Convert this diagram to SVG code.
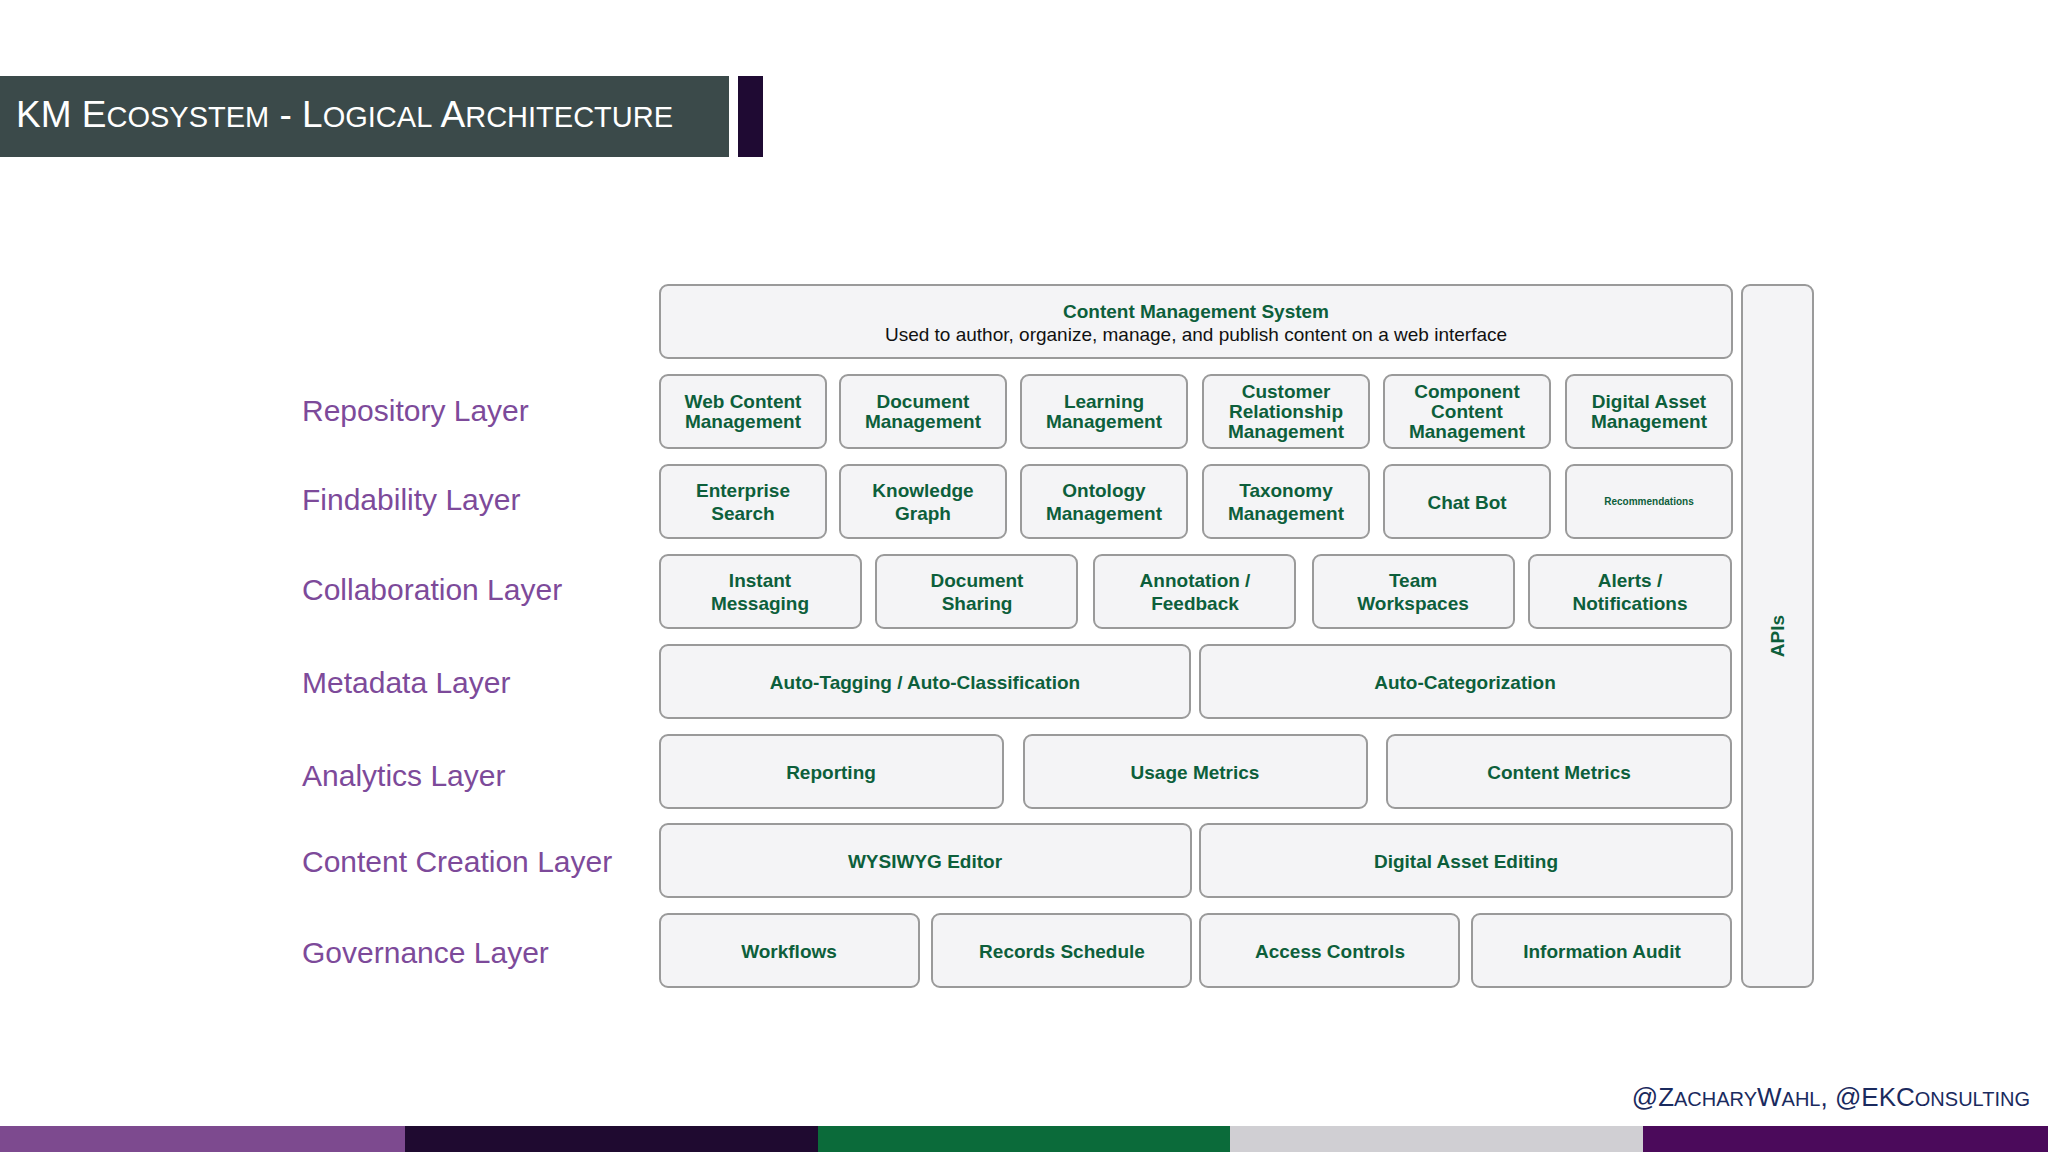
<svg xmlns="http://www.w3.org/2000/svg" width="2048" height="1152" viewBox="0 0 2048 1152">
<style>
.b{fill:#f4f4f6;stroke:#9a9a9a;stroke-width:2}
.t{font-family:"Liberation Sans",Arial,sans-serif;font-weight:bold;font-size:19px;fill:#0d5f3b;text-anchor:middle}
.l{font-family:"Liberation Sans",Arial,sans-serif;font-size:30px;fill:#7d4a9a}
</style>
<rect width="2048" height="1152" fill="#fff"/>
<rect x="0" y="76" width="729" height="81" fill="#3b4a4a"/>
<rect x="738" y="76" width="25" height="81" fill="#1f0a33"/>
<text x="16" y="127" font-family="Liberation Sans,Arial,sans-serif" font-size="37" fill="#fff">KM E<tspan font-size="29">COSYSTEM</tspan> - L<tspan font-size="29">OGICAL</tspan> A<tspan font-size="29">RCHITECTURE</tspan></text>
<g id="labels" class="l">
<text x="302" y="421">Repository Layer</text>
<text x="302" y="510">Findability Layer</text>
<text x="302" y="600">Collaboration Layer</text>
<text x="302" y="693">Metadata Layer</text>
<text x="302" y="786">Analytics Layer</text>
<text x="302" y="872">Content Creation Layer</text>
<text x="302" y="963">Governance Layer</text>
</g>
<g id="cms"><rect class="b" x="660" y="285" width="1072" height="73" rx="8"/>
<text class="t" x="1196" y="318">Content Management System</text>
<text x="1196" y="341" font-family="Liberation Sans,Arial,sans-serif" font-size="19" fill="#111" text-anchor="middle">Used to author, organize, manage, and publish content on a web interface</text></g>
<g id="apis"><rect class="b" x="1742" y="285" width="71" height="702" rx="8"/>
<text class="t" transform="translate(1784 636) rotate(-90)">APIs</text></g>
<g id="repo">
<rect class="b" x="660" y="375" width="166" height="73" rx="8"/><text class="t" x="743" y="408">Web Content<tspan x="743" dy="20">Management</tspan></text>
<rect class="b" x="840" y="375" width="166" height="73" rx="8"/><text class="t" x="923" y="408">Document<tspan x="923" dy="20">Management</tspan></text>
<rect class="b" x="1021" y="375" width="166" height="73" rx="8"/><text class="t" x="1104" y="408">Learning<tspan x="1104" dy="20">Management</tspan></text>
<rect class="b" x="1203" y="375" width="166" height="73" rx="8"/><text class="t" x="1286" y="398">Customer<tspan x="1286" dy="20">Relationship</tspan><tspan x="1286" dy="20">Management</tspan></text>
<rect class="b" x="1384" y="375" width="166" height="73" rx="8"/><text class="t" x="1467" y="398">Component<tspan x="1467" dy="20">Content</tspan><tspan x="1467" dy="20">Management</tspan></text>
<rect class="b" x="1566" y="375" width="166" height="73" rx="8"/><text class="t" x="1649" y="408">Digital Asset<tspan x="1649" dy="20">Management</tspan></text>
</g>
<g id="find">
<rect class="b" x="660" y="465" width="166" height="73" rx="8"/><text class="t" x="743" y="497">Enterprise<tspan x="743" dy="23">Search</tspan></text>
<rect class="b" x="840" y="465" width="166" height="73" rx="8"/><text class="t" x="923" y="497">Knowledge<tspan x="923" dy="23">Graph</tspan></text>
<rect class="b" x="1021" y="465" width="166" height="73" rx="8"/><text class="t" x="1104" y="497">Ontology<tspan x="1104" dy="23">Management</tspan></text>
<rect class="b" x="1203" y="465" width="166" height="73" rx="8"/><text class="t" x="1286" y="497">Taxonomy<tspan x="1286" dy="23">Management</tspan></text>
<rect class="b" x="1384" y="465" width="166" height="73" rx="8"/><text class="t" x="1467" y="509">Chat Bot</text>
<rect class="b" x="1566" y="465" width="166" height="73" rx="8"/><text class="t" x="1649" y="505" style="font-size:10px">Recommendations</text>
</g>
<g id="collab">
<rect class="b" x="660" y="555" width="201" height="73" rx="8"/><text class="t" x="760" y="587">Instant<tspan x="760" dy="23">Messaging</tspan></text>
<rect class="b" x="876" y="555" width="201" height="73" rx="8"/><text class="t" x="977" y="587">Document<tspan x="977" dy="23">Sharing</tspan></text>
<rect class="b" x="1094" y="555" width="201" height="73" rx="8"/><text class="t" x="1195" y="587">Annotation /<tspan x="1195" dy="23">Feedback</tspan></text>
<rect class="b" x="1313" y="555" width="201" height="73" rx="8"/><text class="t" x="1413" y="587">Team<tspan x="1413" dy="23">Workspaces</tspan></text>
<rect class="b" x="1529" y="555" width="202" height="73" rx="8"/><text class="t" x="1630" y="587">Alerts /<tspan x="1630" dy="23">Notifications</tspan></text>
</g>
<g id="meta">
<rect class="b" x="660" y="645" width="530" height="73" rx="8"/><text class="t" x="925" y="689">Auto-Tagging / Auto-Classification</text>
<rect class="b" x="1200" y="645" width="531" height="73" rx="8"/><text class="t" x="1465" y="689">Auto-Categorization</text>
</g>
<g id="analytics">
<rect class="b" x="660" y="735" width="343" height="73" rx="8"/><text class="t" x="831" y="779">Reporting</text>
<rect class="b" x="1024" y="735" width="343" height="73" rx="8"/><text class="t" x="1195" y="779">Usage Metrics</text>
<rect class="b" x="1387" y="735" width="344" height="73" rx="8"/><text class="t" x="1559" y="779">Content Metrics</text>
</g>
<g id="creation">
<rect class="b" x="660" y="824" width="531" height="73" rx="8"/><text class="t" x="925" y="868">WYSIWYG Editor</text>
<rect class="b" x="1200" y="824" width="532" height="73" rx="8"/><text class="t" x="1466" y="868">Digital Asset Editing</text>
</g>
<g id="gov">
<rect class="b" x="660" y="914" width="259" height="73" rx="8"/><text class="t" x="789" y="958">Workflows</text>
<rect class="b" x="932" y="914" width="259" height="73" rx="8"/><text class="t" x="1062" y="958">Records Schedule</text>
<rect class="b" x="1200" y="914" width="259" height="73" rx="8"/><text class="t" x="1330" y="958">Access Controls</text>
<rect class="b" x="1472" y="914" width="259" height="73" rx="8"/><text class="t" x="1602" y="958">Information Audit</text>
</g>
<g id="connectors"/>
<text x="2030" y="1106" text-anchor="end" font-family="Liberation Sans,Arial,sans-serif" font-size="26" fill="#1a2a5e">@Z<tspan font-size="20">ACHARY</tspan>W<tspan font-size="20">AHL</tspan>, @EKC<tspan font-size="20">ONSULTING</tspan></text>
<rect x="0" y="1126" width="405" height="26" fill="#7d4a8f"/>
<rect x="405" y="1126" width="413" height="26" fill="#1f0a30"/>
<rect x="818" y="1126" width="412" height="26" fill="#0b6b3a"/>
<rect x="1230" y="1126" width="413" height="26" fill="#d0cfd3"/>
<rect x="1643" y="1126" width="405" height="26" fill="#4b0a5b"/>
</svg>
